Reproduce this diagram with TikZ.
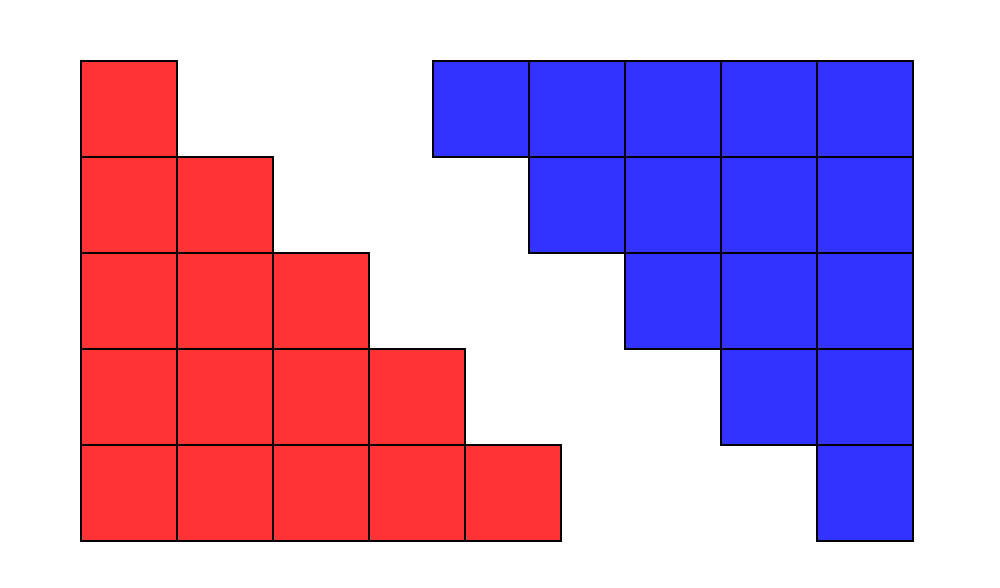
\documentclass[tikz,border=0pt]{standalone}
\definecolor{redsq}{HTML}{FF3333}
\definecolor{bluesq}{HTML}{3333FF}
\tikzset{
  redbox/.style={fill=redsq,draw=black,line width=0.35pt},
  bluebox/.style={fill=bluesq,draw=black,line width=0.35pt}
}
\begin{document}
\begin{tikzpicture}[x=1cm,y=1cm]
\useasboundingbox (0,0) rectangle (10.416667,6.125);
% origin: pixel (81,541) -> (0.84375,0.489583)
\begin{scope}[shift={(0.84375,0.489583)}]
  % red staircase: row r from bottom (0..4) has 5-r squares
  \foreach \r in {0,...,4}{
    \pgfmathtruncatemacro{\n}{4-\r}
    \foreach \c in {0,...,\n}{
      \draw[redbox] (\c,\r) rectangle ++(1,1);
    }
  }
  % blue staircase: columns start at 3.6667 (pixel 433)
  \foreach \r in {0,...,4}{
    \pgfmathtruncatemacro{\s}{4-\r}
    \foreach \c in {\s,...,4}{
      \draw[bluebox] ({3.666667+\c},\r) rectangle ++(1,1);
    }
  }
\end{scope}
\end{tikzpicture}
\end{document}
